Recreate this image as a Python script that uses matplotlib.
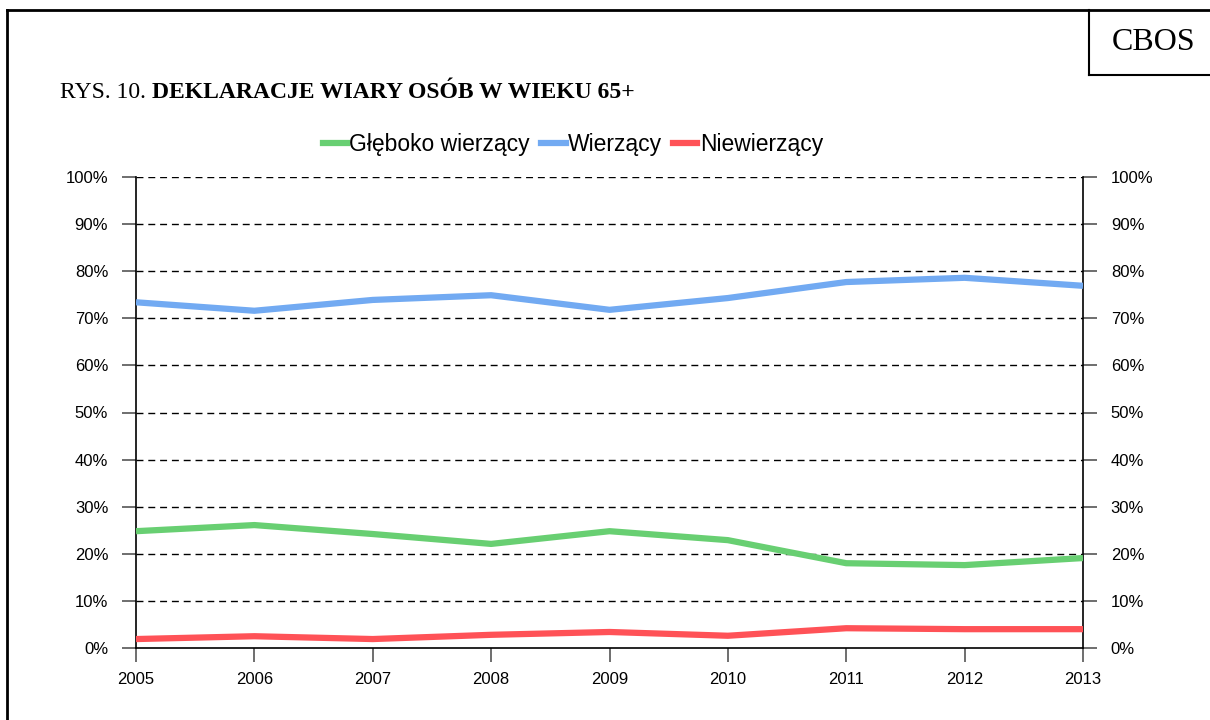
import matplotlib
matplotlib.use('Agg')
import matplotlib.pyplot as plt
from matplotlib.lines import Line2D
from matplotlib.ticker import FuncFormatter, MultipleLocator

# Data
years = [2005, 2006, 2007, 2008, 2009, 2010, 2011, 2012, 2013]
gleboko = [24.8, 26.1, 24.2, 22.1, 24.8, 22.9, 18.0, 17.6, 19.1]
wierzacy = [73.4, 71.6, 73.9, 74.9, 71.8, 74.3, 77.7, 78.6, 76.9]
niewierzacy = [1.9, 2.5, 1.9, 2.8, 3.4, 2.6, 4.2, 4.0, 4.0]

series = [
    ('Głęboko wierzący', gleboko, '#68cf72'),
    ('Wierzący', wierzacy, '#72aaf2'),
    ('Niewierzący', niewierzacy, '#ff5257'),
]

W, H = 1210, 720
fig = plt.figure(figsize=(W / 100, H / 100), dpi=100)
ax = fig.add_axes([136 / W, 1 - 648 / H, (1083 - 136) / W, (648 - 177) / H])

for name, vals, col in series:
    ax.plot(years, vals, color=col, lw=4.5, label=name, solid_capstyle='butt', zorder=3)

ax.set_xlim(years[0], years[-1])
ax.set_ylim(0, 100)
ax.yaxis.set_major_locator(MultipleLocator(10))
ax.set_xticks(years)
ax.yaxis.set_major_formatter(FuncFormatter(lambda v, p: f'{v:.0f}%'))

# dashed gridlines
for v in range(10, 101, 10):
    ax.axhline(v, color='black', lw=1, ls=(0, (5, 3.5)), zorder=1)

ax.spines['top'].set_visible(False)
for s in ['left', 'right', 'bottom']:
    ax.spines[s].set_linewidth(1.2)
    ax.spines[s].set_color('black')

ax.tick_params(axis='y', direction='out', length=10, width=1.2, color='#555555',
               labelsize=12, pad=10, left=True, right=True, labelright=True)
ax.tick_params(axis='x', direction='out', length=10, width=1.2, color='#555555',
               labelsize=12, pad=7)
for lab in ax.get_yticklabels() + ax.get_xticklabels():
    lab.set_family('Liberation Sans')
for t in ax.yaxis.get_major_ticks():
    t.label2.set_family('Liberation Sans')
    t.label2.set_fontsize(12)

# legend
fig.legend(handles=[Line2D([0], [0], color=c, lw=4.5, label=n) for n, _, c in series],
           loc='center', bbox_to_anchor=(573 / W, 1 - 145 / H), ncol=3, frameon=False,
           handlelength=1.05, handletextpad=0.1, columnspacing=0.5,
           prop={'family': 'Liberation Sans', 'size': 16.5})

# title
t1 = fig.text(60 / W, 1 - 93 / H, 'RYS. 10. ', family='Liberation Serif', fontsize=17,
              va='center', ha='left')
fig.canvas.draw()
bb = t1.get_window_extent()
fig.text(bb.x1 / W, 1 - 93 / H, 'DEKLARACJE WIARY OSÓB W WIEKU 65+',
         family='Liberation Serif', fontsize=17, fontweight='bold', va='center', ha='left')

# page frame and CBOS box
fig.add_artist(Line2D([7 / W, 7 / W], [0, 1 - 10 / H], color='black', lw=2))
fig.add_artist(Line2D([7 / W, 1], [1 - 10 / H, 1 - 10 / H], color='black', lw=2))
fig.add_artist(Line2D([1089 / W, 1089 / W], [1 - 10 / H, 1 - 75 / H], color='black', lw=1.5))
fig.add_artist(Line2D([1089 / W, 1], [1 - 75 / H, 1 - 75 / H], color='black', lw=1.5))
fig.text(1154 / W, 1 - 42 / H, 'CBOS', family='Liberation Serif', fontsize=23,
         ha='center', va='center')

fig.savefig('out.png', dpi=100)
